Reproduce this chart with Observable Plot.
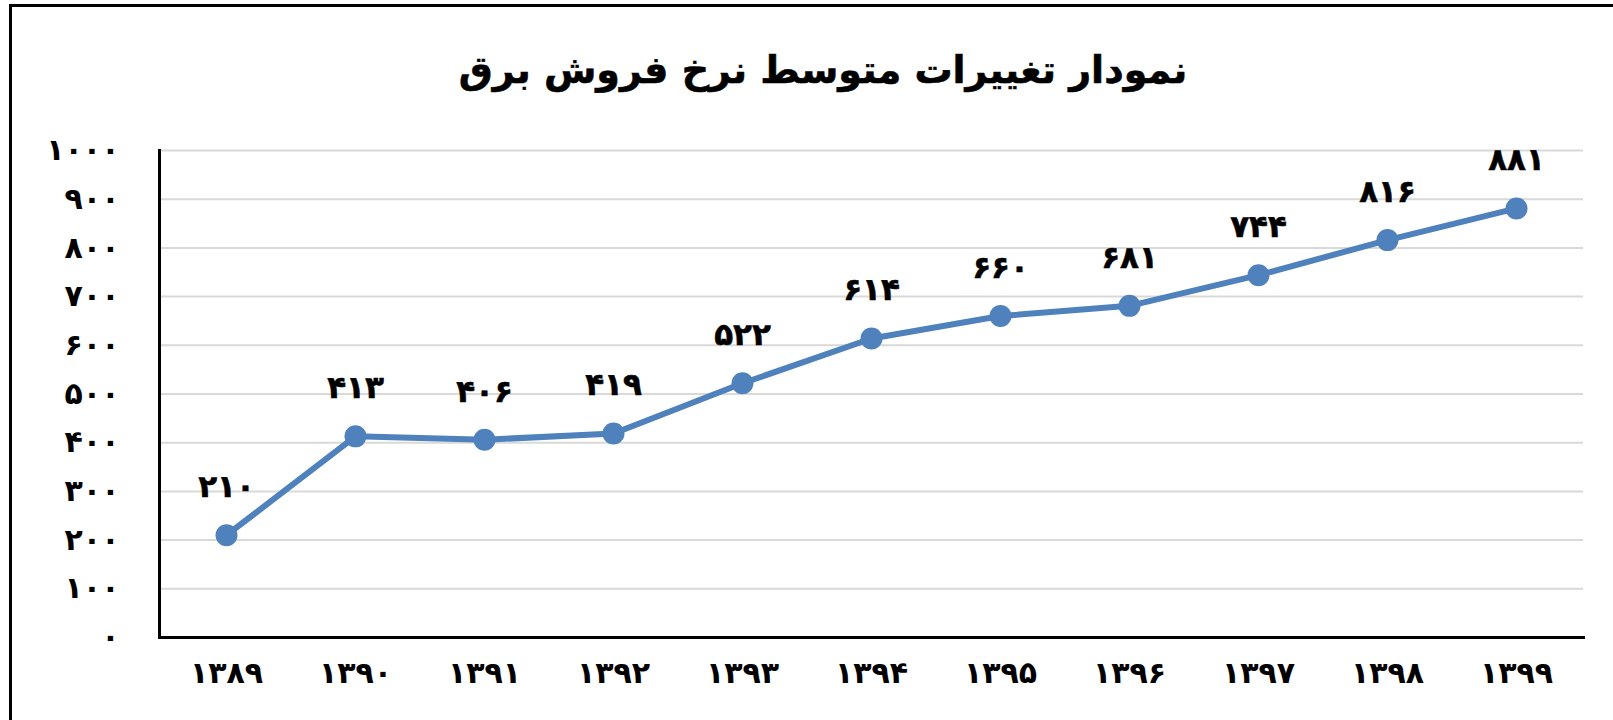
<!DOCTYPE html>
<html>
<head>
<meta charset="utf-8">
<script src="https://cdn.jsdelivr.net/npm/d3@7"></script>
<script src="https://cdn.jsdelivr.net/npm/@observablehq/plot@0.6"></script>
<style>
html,body{margin:0;padding:0;background:#fff;overflow:hidden;width:1613px;height:720px;}
#frame{position:absolute;left:9px;top:4px;width:1700px;height:800px;border:3px solid #000;box-sizing:border-box;pointer-events:none;}
#title{position:relative;height:110px;box-sizing:border-box;padding-top:32px;width:1646px;display:flex;justify-content:center;align-items:flex-start;
  font-family:"DejaVu Sans",sans-serif;font-weight:bold;font-size:38px;direction:rtl;color:#000;line-height:76px;-webkit-text-stroke:0.6px #000;}
#chart{position:relative;}
</style>
</head>
<body>
<div id="frame"></div>
<div id="title">نمودار تغییرات متوسط نرخ فروش برق</div>
<div id="chart"></div>
<script>
const years = [1389, 1390, 1391, 1392, 1393, 1394, 1395, 1396, 1397, 1398, 1399];
const values = [210, 413, 406, 419, 522, 614, 660, 681, 744, 816, 881];
const yTicks = [0, 100, 200, 300, 400, 500, 600, 700, 800, 900, 1000];
const faDigits = ["۰","۱","۲","۳","۴","۵","۶","۷","۸","۹"];
const fa = n => String(n).replace(/\d/g, d => faDigits[+d]);
const data = years.map((y, i) => ({year: y, value: values[i]}));

const chart = Plot.plot({
  width: 1613,
  height: 610,
  marginTop: 40,
  marginBottom: 83,
  marginLeft: 159,
  marginRight: 30,
  style: {fontFamily: "DejaVu Sans", fontWeight: "bold", fontSize: "30px", color: "#000", background: "transparent"},
  x: {type: "point", domain: years, padding: 0.5},
  y: {domain: [0, 1000]},
  marks: [
    Plot.gridY(yTicks, {stroke: "#d9d9d9", strokeWidth: 2, strokeOpacity: 1}),
    Plot.axisY(yTicks, {tickSize: 0, tickPadding: 40, tickFormat: fa, fontSize: 30, fontWeight: "bold", stroke: "#000", strokeWidth: 0.6, label: null}),
    Plot.axisX(years, {tickSize: 0, tickPadding: 24, tickFormat: fa, fontSize: 30, fontWeight: "bold", stroke: "#000", strokeWidth: 0.6, label: null}),
    Plot.frame({anchor: "left", stroke: "#000", strokeWidth: 3}),
    Plot.frame({anchor: "bottom", stroke: "#000", strokeWidth: 3}),
    Plot.line(data, {x: "year", y: "value", stroke: "#4f81bd", strokeWidth: 6}),
    Plot.dot(data, {x: "year", y: "value", r: 11, fill: "#4f81bd", stroke: "none"}),
    Plot.text(data, {x: "year", y: "value", text: d => fa(d.value), dy: -48, fontSize: 31, fontWeight: "bold", fill: "#000", stroke: "#000", strokeWidth: 0.6})
  ]
});
document.getElementById("chart").appendChild(chart);
</script>
</body>
</html>
